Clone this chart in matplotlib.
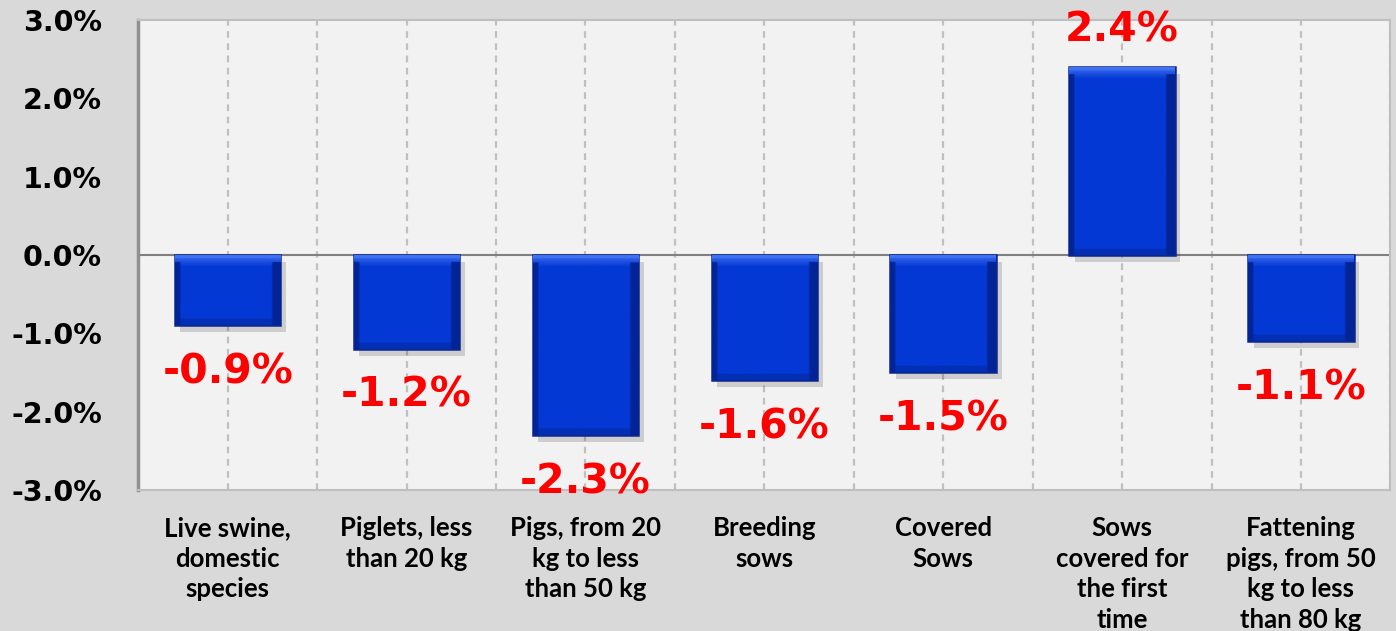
import numpy as np
import matplotlib
matplotlib.use("Agg")
import matplotlib.pyplot as plt
import matplotlib.patheffects as pe
from matplotlib.ticker import FuncFormatter

categories = ["Live swine,\ndomestic\nspecies", "Piglets, less\nthan 20 kg",
              "Pigs, from 20\nkg to less\nthan 50 kg", "Breeding\nsows", "Covered\nSows",
              "Sows\ncovered for\nthe first\ntime", "Fattening\npigs, from 50\nkg to less\nthan 80 kg"]
values = [-0.9, -1.2, -2.3, -1.6, -1.5, 2.4, -1.1]
labels = ["-0.9%", "-1.2%", "-2.3%", "-1.6%", "-1.5%", "2.4%", "-1.1%"]
yticks = [-3, -2, -1, 0, 1, 2, 3]

fig = plt.figure(figsize=(13.96, 6.31), dpi=100)
fig.patch.set_facecolor("#d9d9d9")
ax = fig.add_axes([0.099, 0.2235, 0.897, 0.745])
ax.set_facecolor("#f2f2f2")

x = np.arange(len(values))
ax.set_xlim(-0.5, len(values) - 0.5)
ax.set_ylim(-3, 3)

# dashed vertical gridlines at centers and boundaries
for gx in np.arange(0, len(values) - 0.5 + 1e-9, 0.5):
    ax.axvline(gx, color="#c0c0c0", lw=1.6, ls=(0, (3, 2.5)), zorder=1)
ax.axhline(0, color="#808080", lw=1.5, zorder=2)

bw = 0.59
bars = ax.bar(x, values, width=bw, color="#0438d4", edgecolor="#0c2690", linewidth=1.8, zorder=3)

# gradient / bevel fill
for b, v in zip(bars, values):
    b.set_path_effects([pe.SimplePatchShadow(offset=(4, -5), shadow_rgbFace="#000000", alpha=0.15), pe.Normal()])
    h = abs(v)
    ny, nx = 300, 60
    base = np.array([4, 56, 212]) / 255.0
    light = np.array([70, 120, 245]) / 255.0
    dark = np.array([2, 36, 150]) / 255.0
    yy = np.linspace(0, h, ny)[:, None]
    xx = np.linspace(0, 1, nx)[None, :]
    col = np.broadcast_to(base, (ny, nx, 3)).copy()
    tfade = np.clip(1 - yy / 0.16, 0, 1)
    tfade = np.where(yy < 0.05, 1.0, tfade)[..., None]
    col = col * (1 - tfade * 0.9) + light * tfade * 0.9
    bottom = (yy > h - 0.08)[..., None]
    col = np.where(bottom, base * 0.85, col)
    side = ((xx < 0.05) | (xx > 0.93))[..., None]
    col = np.where(side & (yy > 0.1)[..., None], dark, col)
    x0 = b.get_x()
    top_y = max(0, v)
    bot_y = min(0, v)
    im = ax.imshow(np.clip(col, 0, 1), extent=(x0, x0 + bw, bot_y, top_y), origin="upper",
                   aspect="auto", zorder=3.5, interpolation="bilinear")
    im.set_clip_path(b)

ax.set_xlim(-0.5, len(values) - 0.5)
ax.set_ylim(-3, 3)

for xi, v, lab in zip(x, values, labels):
    off = 0.46 if v > 0 else -0.6
    ax.text(xi, v + off, lab, ha="center", va="center", color="#ff0000",
            fontsize=29.5, fontweight="bold", family="DejaVu Sans", zorder=5)

ax.set_yticks(yticks)
ax.yaxis.set_major_formatter(FuncFormatter(lambda v, p: f"{v:.1f}%"))
ax.tick_params(axis="y", length=0, pad=26, labelsize=20.5)
for t in ax.get_yticklabels():
    t.set_fontweight("bold")
    t.set_family("DejaVu Sans")

ax.set_xticks(x)
ax.set_xticklabels(categories, fontsize=18.5, fontweight="bold", family="Lato", linespacing=1.32)
ax.tick_params(axis="x", length=0, pad=19)

for s in ["top", "right", "bottom"]:
    ax.spines[s].set_color("#bfbfbf")
    ax.spines[s].set_linewidth(1.5)
ax.spines["left"].set_color("#909090")
ax.spines["left"].set_linewidth(2.5)

fig.savefig("out.png", dpi=100, facecolor=fig.get_facecolor())
